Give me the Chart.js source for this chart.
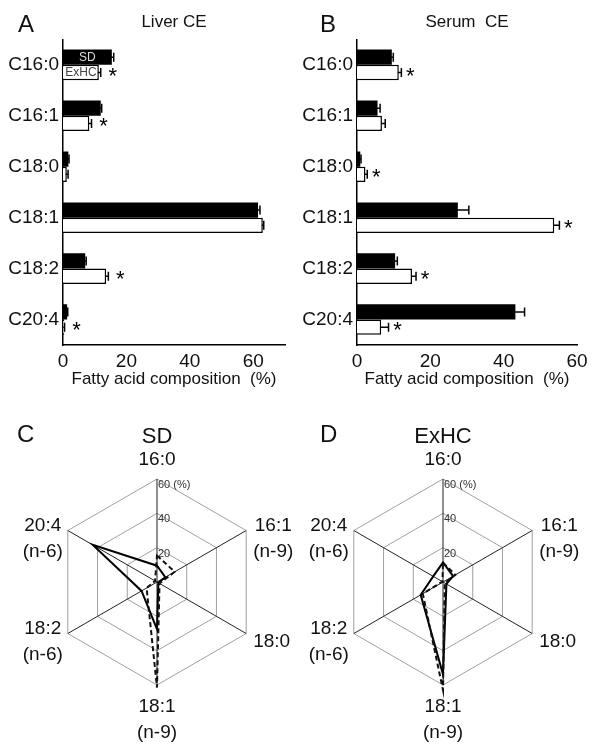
<!DOCTYPE html>
<html>
<head>
<meta charset="utf-8">
<title>Fatty acid composition of CE</title>
<script src="https://cdn.jsdelivr.net/npm/chart.js@4/dist/chart.umd.min.js"></script>
<style>
  body { margin: 0; background: #fff; }
  #fig { position: relative; width: 600px; height: 749px; font-family: Arial, "Liberation Sans", sans-serif; }
  canvas { position: absolute; }
  .letter { position: absolute; font-size: 24px; line-height: 1; color: #111; }
</style>
</head>
<body>
<div id="fig">
  <canvas id="chartA" width="300" height="392" style="left:0;top:0"></canvas>
  <canvas id="chartB" width="300" height="392" style="left:300px;top:0"></canvas>
  <canvas id="chartC" width="300" height="349" style="left:0;top:400px"></canvas>
  <canvas id="chartD" width="300" height="349" style="left:300px;top:400px"></canvas>
  <div class="letter" style="left:18px;top:12px">A</div>
  <div class="letter" style="left:320px;top:12px">B</div>
  <div class="letter" style="left:17px;top:422px">C</div>
  <div class="letter" style="left:320px;top:422px">D</div>
</div>
<script>
// fatty acids (bar charts, top to bottom)
const categories = ['C16:0', 'C16:1', 'C18:0', 'C18:1', 'C18:2', 'C20:4'];

// Liver CE (%), mean and error
const liverSD = [15.4, 11.9, 1.7, 61.5, 7.0, 1.3];
const liverSDErr = [0.6, 0.3, 0.2, 0.6, 0.3, 0.2];
const liverExHC = [11.3, 8.3, 1.2, 63.0, 13.6, 0.4];
const liverExHCErr = [0.6, 0.7, 0.4, 0.3, 0.7, 0.1];
const liverSig = [true, true, false, false, true, true];

// Serum CE (%), mean and error
const serumSD = [9.5, 5.6, 0.9, 27.5, 10.4, 43.2];
const serumSDErr = [0.4, 0.7, 0.2, 3.0, 0.6, 2.5];
const serumExHC = [11.4, 6.8, 2.3, 53.8, 15.0, 6.6];
const serumExHCErr = [0.7, 0.9, 0.5, 1.4, 1.1, 2.0];
const serumSig = [true, false, true, true, true, true];

// radar axes (clockwise from top) and ring labels
const radarLabels = [['16:0'], ['16:1', '(n-9)'], ['18:0'], ['18:1', '(n-9)'], ['18:2', '(n-6)'], ['20:4', '(n-6)']];
const radarTickValues = [20, 40, 60];
const radarTickText = ['20', '40', '60 (%)'];

const FONT = 'Arial, "Liberation Sans", sans-serif';
Chart.defaults.font.family = FONT;
Chart.defaults.color = '#111';

// error bars, asterisks and the SD / ExHC key inside the first bars
const errorBarPlugin = {
  id: 'errorBars',
  afterDatasetsDraw(chart, args, opts) {
    const ctx = chart.ctx;
    const xs = chart.scales.x;
    ctx.save();
    ctx.strokeStyle = '#000';
    ctx.lineWidth = 1.5;
    chart.data.datasets.forEach((ds, di) => {
      const meta = chart.getDatasetMeta(di);
      meta.data.forEach((bar, i) => {
        const end = xs.getPixelForValue(ds.data[i] + ds.errors[i]);
        const cap = 4.5;
        ctx.beginPath();
        ctx.moveTo(bar.x - 1, bar.y);
        ctx.lineTo(end, bar.y);
        ctx.moveTo(end, bar.y - cap);
        ctx.lineTo(end, bar.y + cap);
        ctx.stroke();
        if (ds.sig && ds.sig[i]) {
          ctx.fillStyle = '#000';
          ctx.font = '22px ' + FONT;
          ctx.textAlign = 'center';
          ctx.textBaseline = 'alphabetic';
          ctx.fillText('*', end + opts.gap, bar.y + 10);
        }
      });
    });
    if (opts.showKey) {
      ctx.font = '12px ' + FONT;
      ctx.textAlign = 'center';
      ctx.textBaseline = 'middle';
      const base = xs.getPixelForValue(0);
      const b0 = chart.getDatasetMeta(0).data[0];
      const b1 = chart.getDatasetMeta(1).data[0];
      ctx.fillStyle = '#ddd';
      ctx.fillText('SD', (base + b0.x) / 2, b0.y);
      ctx.fillStyle = '#444';
      ctx.fillText('ExHC', (base + b1.x) / 2, b1.y);
    }
    ctx.restore();
  }
};

function barChart(id, title, sd, sdErr, ex, exErr, sig, xMax, axisWidth, padRight, showKey, gap) {
  return new Chart(document.getElementById(id), {
    type: 'bar',
    data: {
      labels: categories,
      datasets: [
        { label: 'SD', data: sd, errors: sdErr, backgroundColor: '#000', borderWidth: 0,
          categoryPercentage: 0.6, barPercentage: 1.0 },
        { label: 'ExHC', data: ex, errors: exErr, sig: sig, backgroundColor: '#fff',
          borderColor: '#000', borderWidth: 1.5, categoryPercentage: 0.6, barPercentage: 1.0 }
      ]
    },
    options: {
      responsive: false,
      animation: false,
      indexAxis: 'y',
      layout: { padding: { right: padRight } },
      plugins: {
        legend: { display: false },
        tooltip: { enabled: false },
        title: { display: true, text: title, fullSize: false, font: { size: 17, weight: 'normal' },
          color: '#111', padding: { top: 12, bottom: 7 } },
        errorBars: { showKey: showKey, gap: gap }
      },
      scales: {
        y: {
          grid: { display: false, drawTicks: false },
          border: { color: '#000', width: 1.5 },
          ticks: { font: { size: 19 }, color: '#111', padding: 4 },
          afterFit(s) { s.width = axisWidth; }
        },
        x: {
          min: 0, max: xMax,
          grid: { display: false, drawTicks: false },
          border: { color: '#000', width: 1.5 },
          ticks: { stepSize: 20, includeBounds: false, font: { size: 19 }, color: '#111', padding: 5 },
          title: { display: true, text: 'Fatty acid composition  (%)', font: { size: 17 }, color: '#111',
            padding: { top: 0, bottom: 2 } },
          afterFit(s) { s.height = 47; }
        }
      }
    },
    plugins: [errorBarPlugin]
  });
}

// ring labels, axis labels and panel title for the radar charts
const radarTextPlugin = {
  id: 'radarText',
  afterDraw(chart, args, opts) {
    const r = chart.scales.r;
    const ctx = chart.ctx;
    ctx.save();
    ctx.font = '11px ' + FONT;
    ctx.fillStyle = '#333';
    ctx.textAlign = 'left';
    ctx.textBaseline = 'middle';
    radarTickValues.forEach((v, i) => {
      const d = r.getDistanceFromCenterForValue(v);
      ctx.fillText(radarTickText[i], r.xCenter + 1, r.yCenter - d + 6);
    });

    ctx.font = '19px ' + FONT;
    ctx.fillStyle = '#111';
    ctx.textAlign = 'center';
    const lh = 26;
    let topY = 0;
    radarLabels.forEach((lines, i) => {
      const p = r.getPointPosition(i, r.drawingArea);
      const w = Math.max(...lines.map(l => ctx.measureText(l).width));
      const h = lines.length * lh;
      let cx, firstY;
      if (Math.abs(p.x - r.xCenter) < 1) {
        cx = p.x;
        if (p.y < r.yCenter) {
          firstY = p.y - 19 - (lines.length - 1) * lh;
          topY = firstY;
        } else {
          firstY = p.y + 22;
        }
      } else {
        cx = p.x > r.xCenter ? p.x + 7 + w / 2 : p.x - 5 - w / 2;
        firstY = p.y + 8 - h / 2 + lh / 2;
      }
      lines.forEach((l, k) => {
        ctx.textBaseline = 'middle';
        ctx.fillText(l, cx, firstY + k * lh);
      });
    });

    ctx.font = '22px ' + FONT;
    ctx.fillText(opts.title, r.xCenter, topY - 23);
    ctx.restore();
  }
};

function radarChart(id, title, liver, serum, padLeft, padRight) {
  return new Chart(document.getElementById(id), {
    type: 'radar',
    data: {
      labels: radarLabels,
      datasets: [
        { label: 'Liver CE', data: liver, borderColor: '#111', borderWidth: 2, borderDash: [5, 3],
          fill: false, pointRadius: 0 },
        { label: 'Serum CE', data: serum, borderColor: '#000', borderWidth: 2,
          fill: false, pointRadius: 0 }
      ]
    },
    options: {
      responsive: false,
      animation: false,
      layout: { padding: { left: padLeft, right: padRight, top: 79, bottom: 64 } },
      elements: { line: { tension: 0 } },
      plugins: {
        legend: { display: false },
        tooltip: { enabled: false },
        radarText: { title: title }
      },
      scales: {
        r: {
          min: 0, max: 60,
          ticks: { stepSize: 20, display: false },
          grid: { color: '#a0a0a0', lineWidth: 1 },
          angleLines: { color: '#222', lineWidth: 1 },
          pointLabels: { display: false }
        }
      }
    },
    plugins: [radarTextPlugin]
  });
}

barChart('chartA', 'Liver CE', liverSD, liverSDErr, liverExHC, liverExHCErr, liverSig, 70, 63, 15, true, 12);
barChart('chartB', 'Serum  CE', serumSD, serumSDErr, serumExHC, serumExHCErr, serumSig, 60, 57, 23, false, 9);
radarChart('chartC', 'SD', liverSD, serumSD, 54, 40);
radarChart('chartD', 'ExHC', liverExHC, serumExHC, 40, 54);
</script>
</body>
</html>
